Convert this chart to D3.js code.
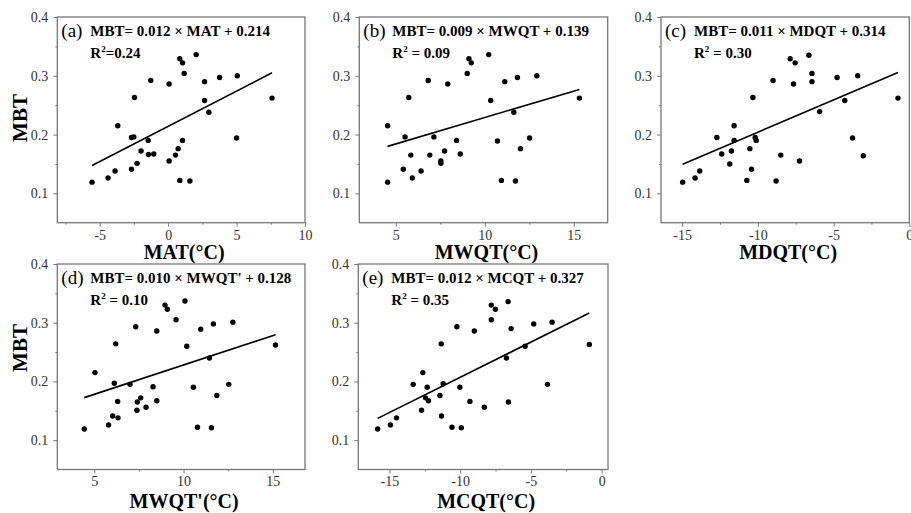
<!DOCTYPE html>
<html>
<head>
<meta charset="utf-8">
<script src="https://cdnjs.cloudflare.com/ajax/libs/d3/7.8.5/d3.min.js"></script>
<style>
  body { margin: 0; background: #fff; }
  svg { display: block; }
  .tick text { font-family: "Liberation Serif", "Times New Roman", serif; font-size: 14px; fill: #333; }
</style>
</head>
<body>
<div id="chart"></div>
<script>
// ---- data ----
// (a) MAT
var matX   = [-5.56, -4.39, -3.88, -3.68, -2.68, -2.68, -2.51, -2.46, -2.27, -1.98, -1.46, -1.44, -1.27, -1.05, 0.07, 0.07,
              0.54, 0.73, 0.85, 1.05, 0.85, 1.05, 1.17, 1.59, 2.05, 2.66, 2.66, 2.98, 3.76, 5.05, 5.0, 7.59];
var matMBT = [0.119, 0.126, 0.138, 0.215, 0.141, 0.195, 0.196, 0.263, 0.151, 0.172, 0.190, 0.166, 0.292, 0.167, 0.286, 0.155,
              0.165, 0.176, 0.329, 0.322, 0.122, 0.190, 0.304, 0.121, 0.336, 0.290, 0.258, 0.238, 0.297, 0.300, 0.194, 0.262];
// (b) MWQT
var mwqtX   = [4.54, 4.54, 5.42, 5.52, 5.73, 5.84, 5.93, 6.42, 6.82, 6.91, 7.14, 7.53, 7.53, 7.74, 7.92, 8.41,
               8.62, 9.01, 9.11, 9.24, 10.22, 10.33, 10.71, 10.93, 11.12, 11.63, 11.72, 11.83, 12.0, 12.51, 12.92, 15.31];
var mwqtMBT = [0.119, 0.215, 0.141, 0.196, 0.263, 0.165, 0.126, 0.138, 0.292, 0.165, 0.196, 0.155, 0.151, 0.172, 0.286, 0.190,
               0.167, 0.304, 0.329, 0.322, 0.336, 0.258, 0.189, 0.122, 0.290, 0.238, 0.121, 0.297, 0.176, 0.194, 0.300, 0.262];
// (c) MDQT
var mdqtX   = [-14.97, -14.15, -13.84, -12.71, -12.39, -11.86, -11.75, -11.57, -11.57, -10.73, -10.53, -10.42, -10.33, -10.18, -10.11, -9.0,
               -8.80, -8.49, -7.87, -7.65, -7.54, -7.25, -6.63, -6.43, -6.43, -5.92, -4.77, -4.26, -3.75, -3.41, -3.04, -0.75];
var mdqtMBT = [0.119, 0.126, 0.138, 0.195, 0.167, 0.150, 0.172, 0.215, 0.190, 0.122, 0.176, 0.141, 0.263, 0.195, 0.190, 0.292,
               0.121, 0.165, 0.329, 0.286, 0.322, 0.155, 0.335, 0.304, 0.290, 0.239, 0.297, 0.258, 0.194, 0.300, 0.164, 0.262];
// (d) MWQT'
var mwqt2X   = [4.44, 5.04, 5.80, 6.03, 6.12, 6.20, 6.31, 6.33, 7.0, 7.32, 7.39, 7.41, 7.60, 7.90, 8.29, 8.50,
                8.50, 8.96, 9.09, 9.58, 10.08, 10.18, 10.55, 10.78, 10.96, 11.45, 11.56, 11.67, 11.86, 12.53, 12.76, 15.15];
var mwqt2MBT = [0.119, 0.215, 0.126, 0.141, 0.197, 0.264, 0.166, 0.138, 0.195, 0.293, 0.151, 0.165, 0.172, 0.156, 0.191, 0.286,
                0.167, 0.330, 0.323, 0.305, 0.337, 0.260, 0.190, 0.122, 0.289, 0.240, 0.121, 0.298, 0.176, 0.195, 0.301, 0.262];
// (e) MCQT
var mcqtX   = [-15.83, -14.93, -14.5, -13.32, -12.73, -12.64, -12.45, -12.33, -12.24, -11.43, -11.34, -11.32, -11.2, -10.58, -10.23, -10.02,
               -9.92, -9.31, -9.0, -8.29, -7.80, -7.80, -7.51, -6.73, -6.61, -6.59, -6.40, -5.41, -4.80, -3.83, -3.50, -0.87];
var mcqtMBT = [0.119, 0.126, 0.138, 0.195, 0.151, 0.215, 0.172, 0.190, 0.167, 0.176, 0.264, 0.141, 0.196, 0.122, 0.293, 0.190,
               0.121, 0.166, 0.286, 0.156, 0.330, 0.305, 0.323, 0.240, 0.336, 0.165, 0.290, 0.260, 0.298, 0.195, 0.301, 0.263];

var panelLabels = ["(a)", "(b)", "(c)", "(d)", "(e)"];
var varNames = ["MAT", "MWQT", "MDQT", "MWQT'", "MCQT"];
var xTitles = ["MAT(°C)", "MWQT(°C)", "MDQT(°C)", "MWQT'(°C)", "MCQT(°C)"];
var slopes = [0.012, 0.009, 0.011, 0.010, 0.012];
var intercepts = [0.214, 0.139, 0.314, 0.128, 0.327];
var r2Text = ["=0.24", " = 0.09", " = 0.30", " = 0.10", " = 0.35"];

var yDomain = [0.05, 0.4];
var yTicks = [0.1, 0.2, 0.3, 0.4];
var yMinor = [0.15, 0.25, 0.35];
var xDomains = [[-8.1, 10], [2.95, 16.9], [-16.4, 0], [2.93, 16.8], [-17.2, 0.45]];
var xTicks = [[-5, 0, 5, 10], [5, 10, 15], [-15, -10, -5, 0], [5, 10, 15], [-15, -10, -5, 0]];
var xMinor = [[-7.5, -2.5, 2.5, 7.5], [7.5, 12.5], [-12.5, -7.5, -2.5], [7.5, 12.5], [-12.5, -7.5, -2.5]];

var xs = [matX, mwqtX, mdqtX, mwqt2X, mcqtX];
var ys = [matMBT, mwqtMBT, mdqtMBT, mwqt2MBT, mcqtMBT];

// ---- layout (pixel boxes of each panel) ----
var boxes = [
  { left: 57.3, right: 305, top: 17, bottom: 222.7, titleDy: 36, yTitle: 118 },
  { left: 359.3, right: 607.7, top: 17, bottom: 222.7, titleDy: 36 },
  { left: 661, right: 909.3, top: 17, bottom: 222.7, titleDy: 36 },
  { left: 57.3, right: 305, top: 264, bottom: 469.5, titleDy: 38.5, yTitle: 348 },
  { left: 358.3, right: 608, top: 264, bottom: 469.5, titleDy: 38.5 }
];

var serif = "'Liberation Serif', 'Times New Roman', serif";
var frameColor = "#777";

var svg = d3.select("#chart")
  .append("svg")
  .attr("width", 911)
  .attr("height", 513);

boxes.forEach(function(b, i) {
  var width = b.right - b.left;
  var height = b.bottom - b.top;

  var g = svg.append("g")
    .attr("transform", `translate(${b.left}, ${b.top})`);

  var x = d3.scaleLinear().domain(xDomains[i]).range([0, width]);
  var y = d3.scaleLinear().domain(yDomain).range([height, 0]);

  // minor ticks first, no labels
  g.append("g")
    .attr("transform", `translate(0, ${height})`)
    .attr("color", frameColor)
    .call(d3.axisBottom(x).tickValues(xMinor[i]).tickSize(2).tickFormat(""))
    .call(s => s.select(".domain").remove());
  g.append("g")
    .attr("color", frameColor)
    .call(d3.axisLeft(y).tickValues(yMinor).tickSize(2).tickFormat(""))
    .call(s => s.select(".domain").remove());

  // major axes
  g.append("g")
    .attr("transform", `translate(0, ${height})`)
    .attr("color", frameColor)
    .call(d3.axisBottom(x).tickValues(xTicks[i]).tickSize(4).tickPadding(3).tickFormat(d => String(d)))
    .call(s => s.select(".domain").remove());
  g.append("g")
    .attr("color", frameColor)
    .call(d3.axisLeft(y).tickValues(yTicks).tickSize(4).tickPadding(5).tickFormat(d3.format(".1f")))
    .call(s => s.select(".domain").remove());

  // frame
  g.append("rect")
    .attr("width", width)
    .attr("height", height)
    .attr("fill", "none")
    .attr("stroke", frameColor)
    .attr("stroke-width", 1.3);

  // regression line over the data range
  var ext = d3.extent(xs[i]);
  var lineData = ext.map(v => [v, slopes[i] * v + intercepts[i]]);
  g.append("path")
    .datum(lineData)
    .attr("fill", "none")
    .attr("stroke", "#000")
    .attr("stroke-width", 1.6)
    .attr("d", d3.line().x(d => x(d[0])).y(d => y(d[1])));

  // points
  g.selectAll("circle")
    .data(xs[i].map((v, k) => [v, ys[i][k]]))
    .enter()
    .append("circle")
    .attr("cx", d => x(d[0]))
    .attr("cy", d => y(d[1]))
    .attr("r", 2.7)
    .attr("fill", "#000");

  // panel letter + equation
  g.append("text")
    .attr("x", 4)
    .attr("y", 19.5)
    .attr("font-family", serif)
    .attr("font-size", "19px")
    .text(panelLabels[i]);

  g.append("text")
    .attr("x", 33)
    .attr("y", 19)
    .attr("font-family", serif)
    .attr("font-size", "15px")
    .attr("font-weight", "bold")
    .text(`MBT= ${slopes[i].toFixed(3)} × ${varNames[i]} + ${intercepts[i].toFixed(3)}`);

  var r2 = g.append("text")
    .attr("x", 33)
    .attr("y", 41)
    .attr("font-family", serif)
    .attr("font-size", "15px")
    .attr("font-weight", "bold");
  r2.append("tspan").text("R");
  r2.append("tspan").attr("dy", -6).attr("font-size", "9px").text("2");
  r2.append("tspan").attr("dy", 6).text(r2Text[i]);

  // x title
  g.append("text")
    .attr("x", width / 2 + 3)
    .attr("y", height + b.titleDy)
    .attr("text-anchor", "middle")
    .attr("font-family", serif)
    .attr("font-size", "20px")
    .attr("font-weight", "bold")
    .text(xTitles[i]);

  // y title on the left column only
  if (b.yTitle) {
    svg.append("text")
      .attr("transform", `translate(26.5, ${b.yTitle}) rotate(-90)`)
      .attr("text-anchor", "middle")
      .attr("font-family", serif)
      .attr("font-size", "21px")
      .attr("font-weight", "bold")
      .text("MBT");
  }
});
</script>
</body>
</html>
